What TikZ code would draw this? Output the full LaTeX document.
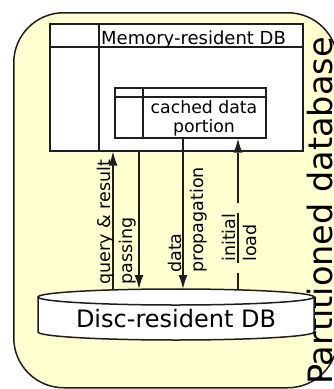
\documentclass[tikz,border=0pt]{standalone}
\usepackage{fontspec}
\setmainfont{DejaVu Sans}
\usetikzlibrary{arrows.meta}
\definecolor{partfill}{RGB}{255,255,208}
\definecolor{edge}{RGB}{30,30,30}
\tikzset{
  boxline/.style={draw=edge, line width=1.5pt},
  arr/.style={draw=edge, line width=1.5pt, -{Latex[length=14pt,width=9pt]}},
  lbl/.style={inner sep=0pt, font=\fontsize{17.5}{20}\selectfont, rotate=90, anchor=base west},
}
\begin{document}
\begin{tikzpicture}[x=1pt,y=-1pt]
\useasboundingbox (0,0) rectangle (334,389);
% container
\node[boxline, fill=partfill, rounded corners=50pt, minimum width=324pt, minimum height=375pt, anchor=north west, inner sep=0pt] (part) at (13,12) {};
\node[lbl, font=\fontsize{33.5}{40}\selectfont] (parttitle) at (332.5,385) {Partitioned database};
% memory-resident DB
\node[boxline, fill=white, minimum width=253pt, minimum height=127pt, anchor=north west, inner sep=0pt] (mem) at (49,23) {};
\draw[boxline] (49,47) -- (302,47);
\draw[boxline] (99,23) -- (99,150);
\node[anchor=base west, inner sep=0pt, font=\fontsize{18}{21}\selectfont] (memlabel) at (101,44) {Memory-resident DB};
% cached portion
\node[boxline, fill=white, minimum width=151pt, minimum height=50pt, anchor=north west, inner sep=0pt] (cache) at (114,87) {};
\draw[boxline] (114,97) -- (265,97);
\draw[boxline] (143,87) -- (143,137);
\node[anchor=base, inner sep=0pt, font=\fontsize{17.3}{20}\selectfont] (cachelabel) at (204,113) {cached data};
\node[anchor=base, inner sep=0pt, font=\fontsize{17.3}{20}\selectfont] (cachelabelb) at (204,132) {portion};
% disc-resident DB
\draw[boxline, fill=white] (38,297) -- (38,332) arc[start angle=180, end angle=360, x radius=138pt, y radius=8pt] -- (314,297);
\draw[boxline, fill=white] (176,297) ellipse [x radius=138pt, y radius=8pt];
\node[anchor=base, inner sep=0pt, font=\fontsize{24}{28}\selectfont] (disc) at (176,327) {Disc-resident DB};
% connectors
\coordinate (qr) at (113,290);
\coordinate (pa) at (139,289);
\coordinate (dp) at (183,289);
\coordinate (il) at (238,290);
\draw[arr] (qr) -- (qr |- mem.south);
\draw[arr] (pa |- mem.south) -- (pa);
\draw[arr] (dp |- cache.south) -- (dp);
\draw[arr, dash pattern=on 50pt off 10pt, dash phase=33pt] (il) -- (il |- cache.south);
% labels
\node[lbl] (qrlabel) at (110,285) {query \& result};
\node[lbl] (palabel) at (132,285) {passing};
\node[lbl] (dlabel) at (181,273) {data};
\node[lbl] (plabel) at (203,273) {propagation};
\node[lbl] (ilabel) at (235,262) {initial};
\node[lbl] (llabel) at (256,262) {load};
\end{tikzpicture}
\end{document}
